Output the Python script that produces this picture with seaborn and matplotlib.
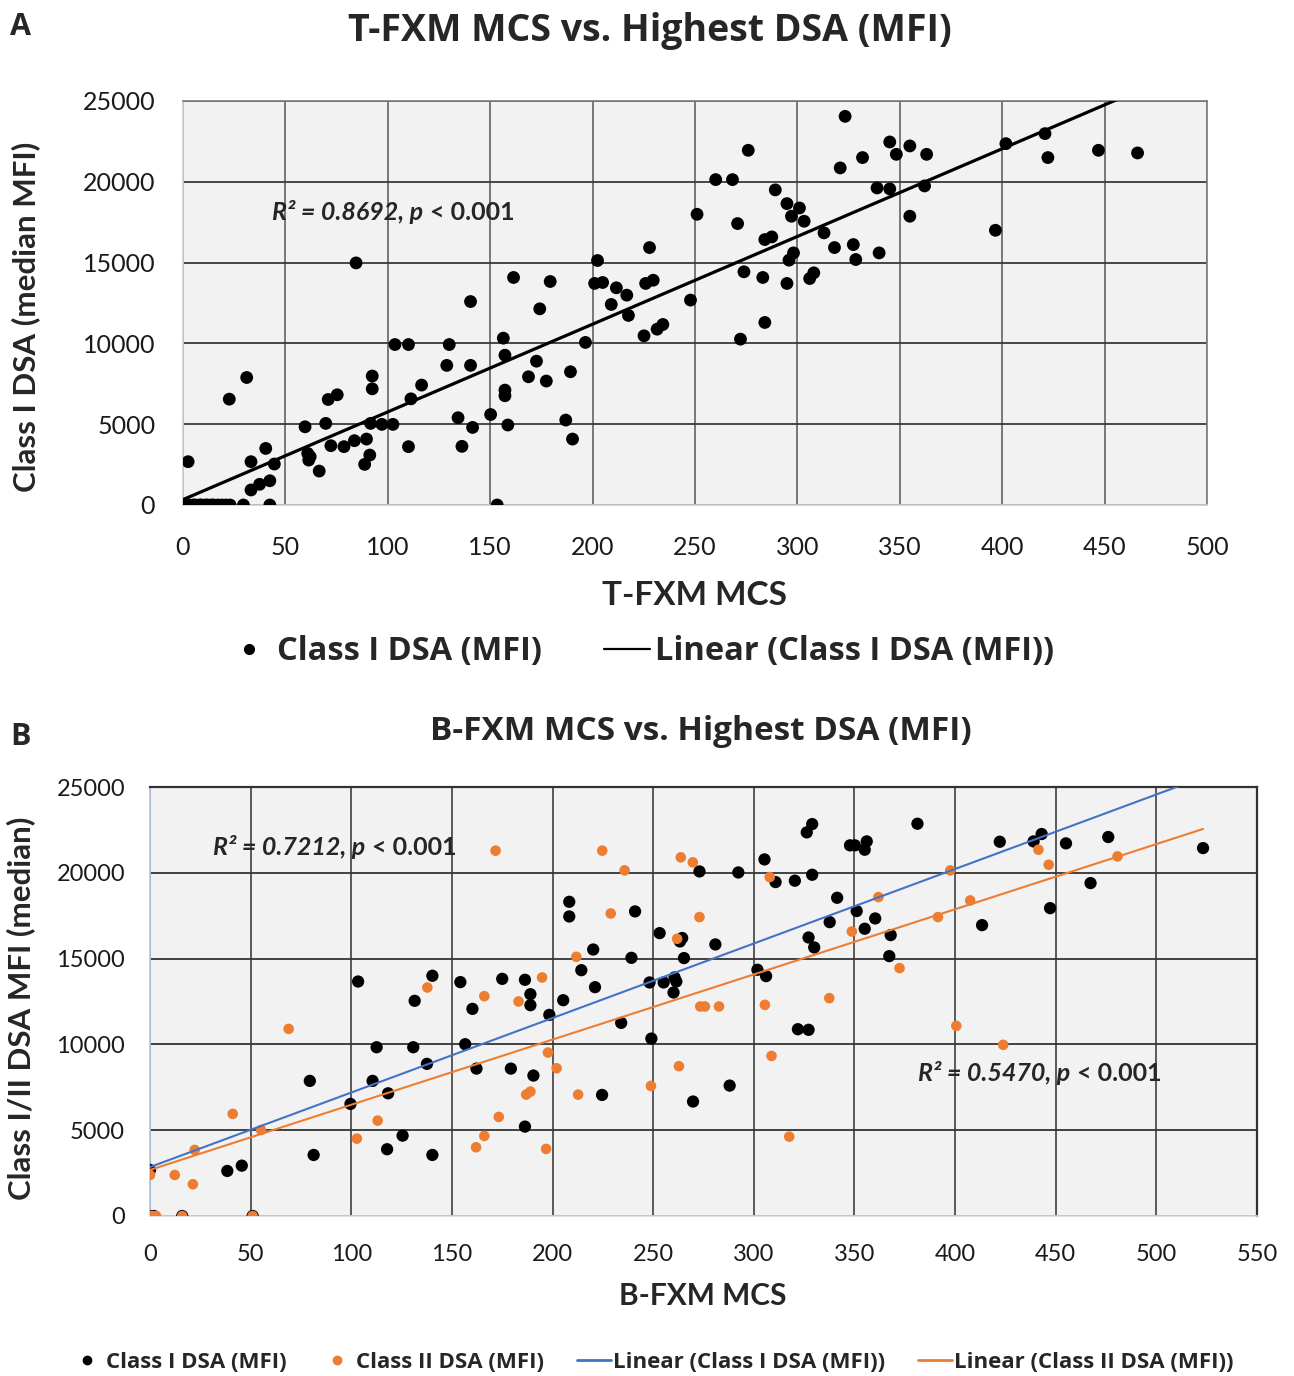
import numpy as np
import pandas as pd
import matplotlib
matplotlib.use("Agg")
import matplotlib.pyplot as plt
import seaborn as sns
from matplotlib.lines import Line2D

# ---- panel A: T-FXM MCS vs class I DSA ----
a_mcs = [0, 1, 2, 3, 5, 6, 8, 9, 11, 12, 14, 15, 17, 19, 21, 23, 29.5, 42.4,
         2.5, 22.6, 31.1, 33.2, 33.2, 37.4, 42.4, 40.4, 44.6, 59.6, 60.9, 62.1,
         61.4, 66.5, 69.7, 70.9, 75.3, 72.2, 78.6, 83.7, 84.5, 89.6, 88.7, 91.2,
         92.4, 92.4, 91.6, 97.1, 102.5, 103.5, 110.1, 111.3, 110.1, 116.5, 130,
         128.8, 140.4, 140.4, 134.3, 141.4, 136.2, 150.2, 153.4, 156.4, 157.2,
         157.2, 157.2, 158.6, 161.4, 168.7, 172.6, 174.2, 177.4, 179.3, 186.9,
         189.2, 190.2, 196.5, 202.4, 201.0, 204.9, 211.6, 209.1, 216.7, 217.5,
         225.1, 227.8, 225.9, 229.6, 231.5, 234.3, 247.8, 251.0,
         260.1, 268.3, 276.0, 270.8, 289.2, 294.9, 297.1, 301.0, 303.3, 284.1,
         287.5, 313.0, 318.1, 327.3, 328.5, 339.9, 298.1, 295.9, 273.9, 283.1,
         294.9, 306.0, 308.0, 284.1, 272.2, 323.3, 320.9, 331.8, 345.1, 348.3,
         354.9, 363.1, 338.9, 345.1, 362.1, 354.9, 396.7, 401.8, 420.9, 422.3,
         447.0, 466.1]
a_dsa1 = [0, 0, 0, 0, 0, 0, 0, 0, 0, 0, 0, 0, 0, 0, 0, 0, 0, 0,
          2680, 6550, 7890, 2680, 930, 1280, 1500, 3500, 2535, 4840, 3190, 2990,
          2780, 2100, 5050, 6530, 6820, 3670, 3610, 3980, 14980, 4080, 2515, 3090,
          7980, 7190, 5050, 4990, 4990, 9930, 9930, 6570, 3610, 7420, 9930,
          8640, 12590, 8640, 5400, 4800, 3630, 5600, 0, 10325, 9270,
          7110, 6760, 4950, 14080, 7935, 8900, 12140, 7670, 13830, 5255,
          8245, 4080, 10060, 15130, 13710, 13770, 13440, 12410, 12985, 11730,
          10470, 15930, 13710, 13910, 10880, 11170, 12680, 17990,
          20135, 20135, 21950, 17415, 19500, 18650, 17870, 18380, 17560, 16425,
          16590, 16840, 15930, 16115, 15190, 15600, 15600, 15150, 14430, 14080,
          13710, 14015, 14365, 11295, 10265, 24050, 20860, 21500, 22465, 21700,
          22220, 21700, 19620, 19560, 19745, 17870, 17000, 22360, 22980, 21500,
          21950, 21785]

# ---- panel B: B-FXM MCS vs class I and class II DSA ----
b1_mcs = [0, 2, 16, 51, 0, 38.4, 45.6, 79.4, 81.3, 99.6, 103.4, 112.6, 110.6,
          118.3, 117.8, 125.5, 130.8, 131.5, 137.6, 140.3, 140.3, 154.2, 156.6,
          160.2, 162.2, 175.0, 179.3, 186.3, 189.0, 189.0, 186.3, 190.5, 198.4,
          205.3, 208.3, 208.3, 214.3, 220.2, 221.1, 224.6, 234.1, 239.2, 241.0,
          249.1, 248.2, 253.2, 255.2, 260.6, 261.5, 260.1, 263.3, 264.4, 265.3,
          269.8, 273.0, 280.9, 288.0, 292.3, 301.8, 306.1, 305.3, 310.8, 320.4,
          321.9, 327.2, 326.3, 329.0, 329.0, 327.2, 330.0, 341.4, 337.7, 347.8,
          350.2, 356.1, 355.1, 351.1, 355.1, 360.3, 368.0, 367.3, 381.3, 413.4,
          422.2, 439.0, 443.0, 455.1, 467.3, 447.2, 476.1, 523.2]
b1_dsa = [0, 0, 0, 0, 2680, 2625, 2935, 7873, 3557, 6530, 13665, 9835, 7873,
          7150, 3890, 4685, 9835, 12540, 8865, 14000, 3557, 13630, 10010,
          12070, 8590, 13820, 8590, 13765, 12925, 12285, 5210, 8185, 11720,
          12575, 18310, 17455, 14325, 15530, 13335, 7055, 11255, 15045, 17750,
          10340, 13610, 16485, 13610, 13900, 13665, 13025, 16000, 16200, 15030,
          6670, 20080, 15825, 7600, 20020, 14350, 13980, 20780, 19460, 19540,
          10885, 10850, 22355, 22840, 19885, 16230, 15650, 18545, 17125, 21600,
          21600, 21830, 21345, 17770, 16740, 17340, 16370, 15145, 22860, 16950,
          21810, 21830, 22260, 21715, 19400, 17940, 22085, 21440]

b2_mcs = [0, 1, 3, 16, 51, 0, 12.3, 21.3, 22.2, 41.1, 55.2, 68.9, 102.8, 113.1,
          137.8, 162.0, 166.1, 166.1, 171.7, 173.3, 183.1, 186.9, 189.0, 194.8,
          196.8, 197.7, 202.0, 211.8, 212.7, 224.7, 228.9, 235.8, 248.9, 261.9,
          262.8, 263.7, 269.7, 273.0, 273.4, 275.7, 282.7, 305.5, 307.9, 308.8,
          317.6, 337.5, 348.7, 361.9, 372.4, 391.5, 397.6, 400.6, 407.5, 423.9,
          441.4, 446.5, 480.7]
b2_dsa = [0, 0, 0, 0, 0, 2390, 2390, 1850, 3850, 5950, 5015, 10905, 4510, 5560,
          13315, 4005, 4665, 12810, 21290, 5775, 12500, 7075, 7250, 13900,
          3910, 9525, 8610, 15105, 7075, 21290, 17630, 20140, 7580, 16155,
          8730, 20900, 20610, 17420, 12210, 12210, 12210, 12305, 19750, 9330,
          4625, 12695, 16580, 18585, 14445, 17420, 20140, 11080, 18390, 9975,
          21345, 20470, 20955]

a_ticks_x = [0, 50, 100, 150, 200, 250, 300, 350, 400, 450, 500]
b_ticks_x = [0, 50, 100, 150, 200, 250, 300, 350, 400, 450, 500, 550]
y_ticks = [0, 5000, 10000, 15000, 20000, 25000]

ORANGE = "#ED7D31"
BLUE = "#4472C4"
narrow = ["Open Sans", "DejaVu Sans"]
gothic = ["Lato", "DejaVu Sans"]

sns.set_theme(style="white")
plt.rcParams["font.family"] = gothic


def trend(x, y, xs):
    k, b = np.polyfit(x, y, 1)
    return pd.DataFrame({"x": xs, "y": k * np.asarray(xs) + b})


def style_axes(ax, xticks, xmax, tick_size, xpad, ypad, grid_v, grid_h):
    ax.set_facecolor("#F2F2F2")
    ax.set_xlim(0, xmax)
    ax.set_ylim(0, 25000)
    ax.set_xticks(xticks)
    ax.set_yticks(y_ticks)
    ax.tick_params(axis="x", length=0, pad=xpad, labelsize=tick_size, colors="#1a1a1a")
    ax.tick_params(axis="y", length=0, pad=ypad, labelsize=tick_size, colors="#1a1a1a")
    for t in xticks:
        ax.axvline(t, color=grid_v, lw=1.3, zorder=0.5)
    for t in y_ticks:
        ax.axhline(t, color=grid_h, lw=1.3, zorder=0.5)


def r2_label(ax, x, y, head, size):
    t = ax.text(x, y, head, fontsize=size, style="italic", fontweight="bold",
                va="center", ha="left")
    ax.annotate("< 0.001", xy=(1, 0.5), xycoords=t, xytext=(5, 0),
                textcoords="offset points", fontsize=size, fontweight="bold",
                va="center", ha="left")


fig = plt.figure(figsize=(12.94, 13.76), dpi=100)

# ---------------- panel A ----------------
axA = fig.add_axes([183 / 1294, 1 - 505 / 1376, 1024 / 1294, 404 / 1376])
style_axes(axA, a_ticks_x, 500, 18, 22, 20, "#6e6e6e", "#3a3a3a")
dfA = pd.DataFrame({"mcs": a_mcs, "dsa": a_dsa1})
sns.scatterplot(data=dfA, x="mcs", y="dsa", ax=axA, color="black", s=85,
                edgecolor="none", zorder=3, legend=False)
lineA = trend(a_mcs, a_dsa1, [min(a_mcs), max(a_mcs)])
sns.lineplot(data=lineA, x="x", y="y", ax=axA, color="black", lw=2.3, zorder=4)
axA.set_ylim(0, 25000)
for side in ["left", "bottom"]:
    axA.spines[side].set_color("#d0d0d0")
for side in ["top", "right"]:
    axA.spines[side].set_color("#808080")
axA.set_xlabel("T-FXM MCS", fontsize=24, fontweight="bold", va="center")
axA.xaxis.set_label_coords(0.5, -0.223)
axA.set_ylabel("Class I DSA (median MFI)", fontsize=22.5, fontweight="bold", va="center")
axA.yaxis.set_label_coords(-0.154, 0.465)
r2_label(axA, 43.5, 18130, "R² = 0.8692, p", 18)

fig.text(10 / 1294, 1 - 27 / 1376, "A", fontsize=22, fontweight="bold",
         family=narrow, va="center", ha="left")
fig.text(650 / 1294, 1 - 31 / 1376, "T-FXM MCS vs. Highest DSA (MFI)", fontsize=27,
         fontweight="bold", family=narrow, va="center", ha="center")

hA = [Line2D([], [], marker="o", color="black", ls="none", markersize=7),
      Line2D([], [], color="black", lw=1.6)]
fig.legend(hA, ["Class I DSA (MFI)", "Linear (Class I DSA (MFI))"],
           loc="center", bbox_to_anchor=(640 / 1294, 1 - 652 / 1376), ncol=2,
           frameon=False, prop={"family": narrow, "weight": "bold", "size": 23.5},
           handlelength=1.4, handletextpad=0.15, columnspacing=1.9)

# ---------------- panel B ----------------
axB = fig.add_axes([150 / 1294, 1 - 1216 / 1376, 1107 / 1294, 429 / 1376])
style_axes(axB, b_ticks_x, 550, 17, 20, 18, "#4d4d4d", "#333333")
dfB1 = pd.DataFrame({"mcs": b1_mcs, "dsa": b1_dsa})
dfB2 = pd.DataFrame({"mcs": b2_mcs, "dsa": b2_dsa})
sns.scatterplot(data=dfB1, x="mcs", y="dsa", ax=axB, color="black", s=78,
                edgecolor="none", zorder=3, legend=False)
sns.scatterplot(data=dfB2, x="mcs", y="dsa", ax=axB, color=ORANGE, s=58,
                edgecolor="none", zorder=3.5, legend=False)
span = [0, max(max(b1_mcs), max(b2_mcs))]
sns.lineplot(data=trend(b1_mcs, b1_dsa, span), x="x", y="y", ax=axB,
             color=BLUE, lw=1.5, zorder=4)
sns.lineplot(data=trend(b2_mcs, b2_dsa, span), x="x", y="y", ax=axB,
             color=ORANGE, lw=1.5, zorder=4)
axB.set_ylim(0, 25000)
axB.set_xlim(0, 550)
axB.spines["left"].set_color("#b4c7e7")
axB.spines["bottom"].set_color("#d6dce5")
for side in ["top", "right"]:
    axB.spines[side].set_color("#333333")
    axB.spines[side].set_linewidth(1.6)
axB.set_xlabel("B-FXM MCS", fontsize=21.5, fontweight="bold", va="center")
axB.xaxis.set_label_coords(0.4995, -0.1865)
axB.set_ylabel("Class I/II DSA MFI (median)", fontsize=22.5, fontweight="bold", va="center")
axB.yaxis.set_label_coords(-0.117, 0.485)
r2_label(axB, 31.3, 21500, "R² = 0.7212, p", 18)
r2_label(axB, 381.5, 8330, "R² = 0.5470, p", 18)

fig.text(10 / 1294, 1 - 737 / 1376, "B", fontsize=22, fontweight="bold",
         family=narrow, va="center", ha="left")
fig.text(701 / 1294, 1 - 731 / 1376, "B-FXM MCS vs. Highest DSA (MFI)", fontsize=24,
         fontweight="bold", family=narrow, va="center", ha="center")

hB = [Line2D([], [], marker="o", color="black", ls="none", markersize=6),
      Line2D([], [], marker="o", color=ORANGE, ls="none", markersize=6),
      Line2D([], [], color=BLUE, lw=2),
      Line2D([], [], color=ORANGE, lw=2)]
fig.legend(hB, ["Class I DSA (MFI)", "Class II DSA (MFI)",
                "Linear (Class I DSA (MFI))", "Linear (Class II DSA (MFI))"],
           loc="center", bbox_to_anchor=(652 / 1294, 1 - 1362 / 1376), ncol=4,
           frameon=False, prop={"family": narrow, "weight": "bold", "size": 16},
           handlelength=1.5, handletextpad=0.1, columnspacing=1.5)

fig.savefig("out.png", dpi=100)
